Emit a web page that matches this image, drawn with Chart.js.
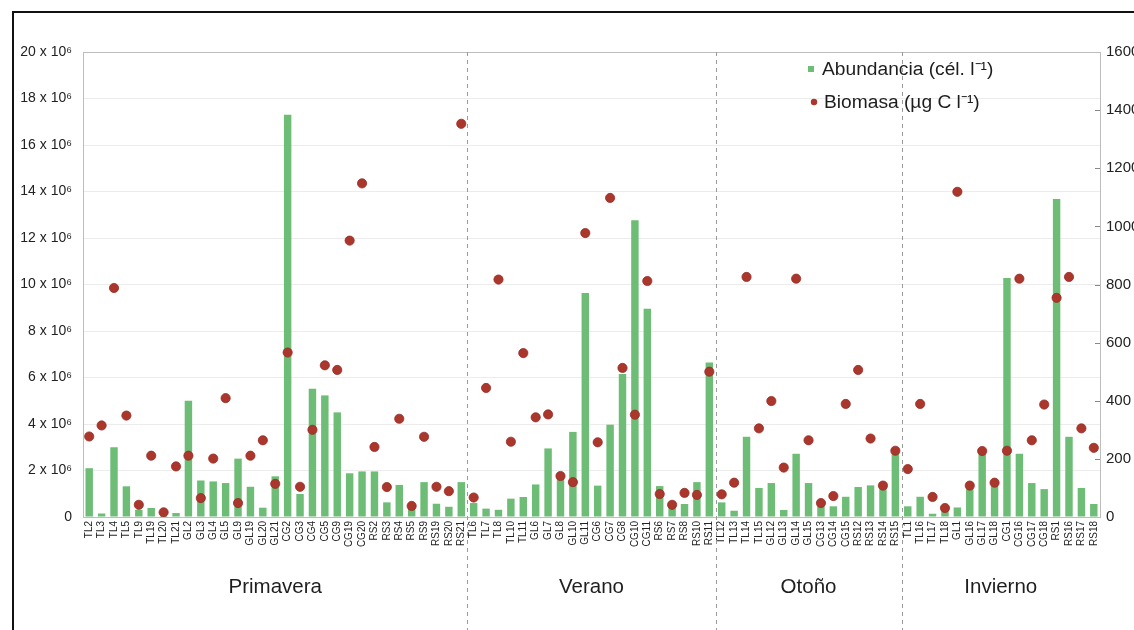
<!DOCTYPE html>
<html>
<head>
<meta charset="utf-8">
<script src="https://cdn.jsdelivr.net/npm/chart.js@4/dist/chart.umd.min.js"></script>
<style>
  html, body { margin: 0; padding: 0; background: #fff; overflow: hidden; }
  #wrap { position: relative; width: 1134px; height: 630px; overflow: hidden; }
  #frame { position: absolute; left: 12px; top: 11px; width: 1200px; height: 700px;
           border: 2px solid #111; pointer-events: none; }
  canvas { position: absolute; left: 0; top: 0; }
</style>
</head>
<body>
<div id="wrap">
  <canvas id="c" width="1170" height="630"></canvas>
  <div id="frame"></div>
</div>
<script>
// Sampling stations, grouped by season
const categories = [
  'TL2','TL3','TL4','TL5','TL9','TL19','TL20','TL21','GL2','GL3','GL4','GL5','GL9','GL19','GL20','GL21',
  'CG2','CG3','CG4','CG5','CG9','CG19','CG20','RS2','RS3','RS4','RS5','RS9','RS19','RS20','RS21',
  'TL6','TL7','TL8','TL10','TL11','GL6','GL7','GL8','GL10','GL11','CG6','CG7','CG8','CG10','CG11',
  'RS6','RS7','RS8','RS10','RS11',
  'TL12','TL13','TL14','TL15','GL12','GL13','GL14','GL15','CG13','CG14','CG15','RS12','RS13','RS14','RS15',
  'TL1','TL16','TL17','TL18','GL1','GL16','GL17','GL18','CG1','CG16','CG17','CG18','RS1','RS16','RS17','RS18'
];

// Abundance, in millions of cells per litre
const abundance = [
  2.1, 0.15, 3.0, 1.32, 0.31, 0.39, 0.05, 0.17, 5.0, 1.57, 1.53, 1.46, 2.51, 1.3, 0.4, 1.75,
  17.3, 0.99, 5.52, 5.23, 4.5, 1.88, 1.96, 1.96, 0.63, 1.38, 0.36, 1.5, 0.57, 0.44, 1.5,
  0.6, 0.36, 0.31, 0.79, 0.86, 1.4, 2.95, 1.9, 3.66, 9.63, 1.35, 3.97, 6.15, 12.76, 8.96,
  1.33, 0.45, 0.56, 1.5, 6.64,
  0.63, 0.27, 3.45, 1.25, 1.46, 0.3, 2.72, 1.46, 0.55, 0.46, 0.87, 1.29, 1.36, 1.32, 2.75,
  0.46, 0.87, 0.14, 0.3, 0.41, 1.25, 2.75, 1.35, 10.28, 2.72, 1.46, 1.2, 13.68, 3.45, 1.25, 0.56
];

// Biomass, µg C per litre
const biomass = [
  277, 315, 788, 349, 42, 211, 16, 174, 211, 65, 201, 409, 48, 211, 264, 114,
  566, 104, 300, 522, 506, 951, 1148, 241, 103, 338, 38, 276, 104, 89, 1353,
  67, 444, 817, 259, 564, 343, 353, 141, 120, 977, 257, 1098, 513, 352, 812,
  79, 42, 83, 76, 500,
  78, 118, 826, 305, 399, 170, 820, 264, 48, 72, 389, 506, 270, 108, 228,
  165, 389, 69, 31, 1119, 108, 227, 118, 228, 820, 264, 387, 754, 826, 305, 238
];

const seasons = ['Primavera', 'Verano', 'Otoño', 'Invierno'];
const seasonSizes = [31, 20, 15, 16];

const abundanceLabel = 'Abundancia (cél. l\u207B\u00B9)';
const biomassLabel = 'Biomasa (\u00B5g C l\u207B\u00B9)';

const GREEN = 'rgb(110,189,118)';
const RED = 'rgb(170,54,44)';
const FONT = '"Liberation Sans", Arial, sans-serif';

const overlay = {
  id: 'overlay',
  beforeDatasetsDraw(chart) {
    const { ctx, chartArea: a, scales } = chart;
    const x = scales.x, y1 = scales.y1;
    ctx.save();
    // plot frame
    ctx.strokeStyle = '#bdbdbd';
    ctx.lineWidth = 1;
    ctx.strokeRect(a.left + 0.5, a.top + 0.5, a.right - a.left, a.bottom - a.top);
    // inward tick marks of the right axis
    ctx.strokeStyle = '#888';
    for (let v = 200; v < 1600; v += 200) {
      const py = Math.round(y1.getPixelForValue(v)) + 0.5;
      ctx.beginPath();
      ctx.moveTo(a.right - 5, py);
      ctx.lineTo(a.right, py);
      ctx.stroke();
    }
    // season separators and names
    let start = 0;
    const step = x.getPixelForValue(1) - x.getPixelForValue(0);
    seasons.forEach((name, i) => {
      const end = start + seasonSizes[i];
      const x0 = x.getPixelForValue(start) - step / 2;
      const x1 = x.getPixelForValue(end - 1) + step / 2;
      if (i > 0) {
        ctx.strokeStyle = '#9a9a9a';
        ctx.setLineDash([4, 4]);
        ctx.beginPath();
        const px = Math.round(x0) + 0.5;
        ctx.moveTo(px, a.top);
        ctx.lineTo(px, chart.height);
        ctx.stroke();
        ctx.setLineDash([]);
      }
      ctx.fillStyle = '#1e1e1e';
      ctx.font = '20.5px ' + FONT;
      ctx.textAlign = 'center';
      ctx.textBaseline = 'middle';
      ctx.fillText(name, (x0 + x1) / 2, 587);
      start = end;
    });
    ctx.restore();
  },
  afterDatasetsDraw(chart) {
    const { ctx } = chart;
    ctx.save();
    ctx.font = '19.2px ' + FONT;
    ctx.textAlign = 'left';
    ctx.textBaseline = 'middle';
    ctx.fillStyle = GREEN;
    ctx.fillRect(808, 66, 6, 6);
    ctx.fillStyle = '#1e1e1e';
    ctx.fillText(abundanceLabel, 822, 70);
    ctx.fillStyle = RED;
    ctx.beginPath();
    ctx.arc(814, 102, 3.2, 0, Math.PI * 2);
    ctx.fill();
    ctx.fillStyle = '#1e1e1e';
    ctx.fillText(biomassLabel, 824, 103);
    ctx.restore();
  }
};

new Chart(document.getElementById('c'), {
  data: {
    labels: categories,
    datasets: [
      {
        type: 'line',
        label: biomassLabel,
        data: biomass,
        yAxisID: 'y1',
        showLine: false,
        pointRadius: 4.6,
        pointBackgroundColor: RED,
        pointBorderColor: 'rgb(150,45,38)',
        pointBorderWidth: 0.8,
        order: 0
      },
      {
        type: 'bar',
        label: abundanceLabel,
        data: abundance,
        yAxisID: 'y',
        backgroundColor: GREEN,
        barPercentage: 0.6,
        categoryPercentage: 1.0,
        order: 1
      }
    ]
  },
  options: {
    responsive: false,
    animation: false,
    layout: { padding: { top: 52, left: 0, right: 0, bottom: 0 } },
    plugins: { legend: { display: false }, tooltip: { enabled: false } },
    scales: {
      x: {
        offset: true,
        grid: { display: false, drawTicks: false },
        border: { display: true, color: '#bdbdbd' },
        ticks: {
          autoSkip: false, minRotation: 90, maxRotation: 90, padding: 4,
          color: '#222', font: { family: FONT, size: 10 }
        },
        afterFit(s) { s.height = 113; }
      },
      y: {
        position: 'left',
        min: 0, max: 20,
        grid: { color: '#ececec', drawTicks: false },
        border: { display: true, color: '#bdbdbd' },
        ticks: {
          stepSize: 2, padding: 11, color: '#222',
          font: { family: FONT, size: 14 },
          callback: v => v === 0 ? '0' : v + ' x 10\u2076'
        },
        afterFit(s) { s.width = 83; }
      },
      y1: {
        position: 'right',
        min: 0, max: 1600,
        grid: { drawOnChartArea: false, drawTicks: false },
        border: { display: true, color: '#bdbdbd' },
        ticks: {
          stepSize: 200, padding: 6, color: '#222',
          font: { family: FONT, size: 15 },
          callback: v => String(v)
        },
        afterFit(s) { s.width = 70; }
      }
    }
  },
  plugins: [overlay]
});
</script>
</body>
</html>
